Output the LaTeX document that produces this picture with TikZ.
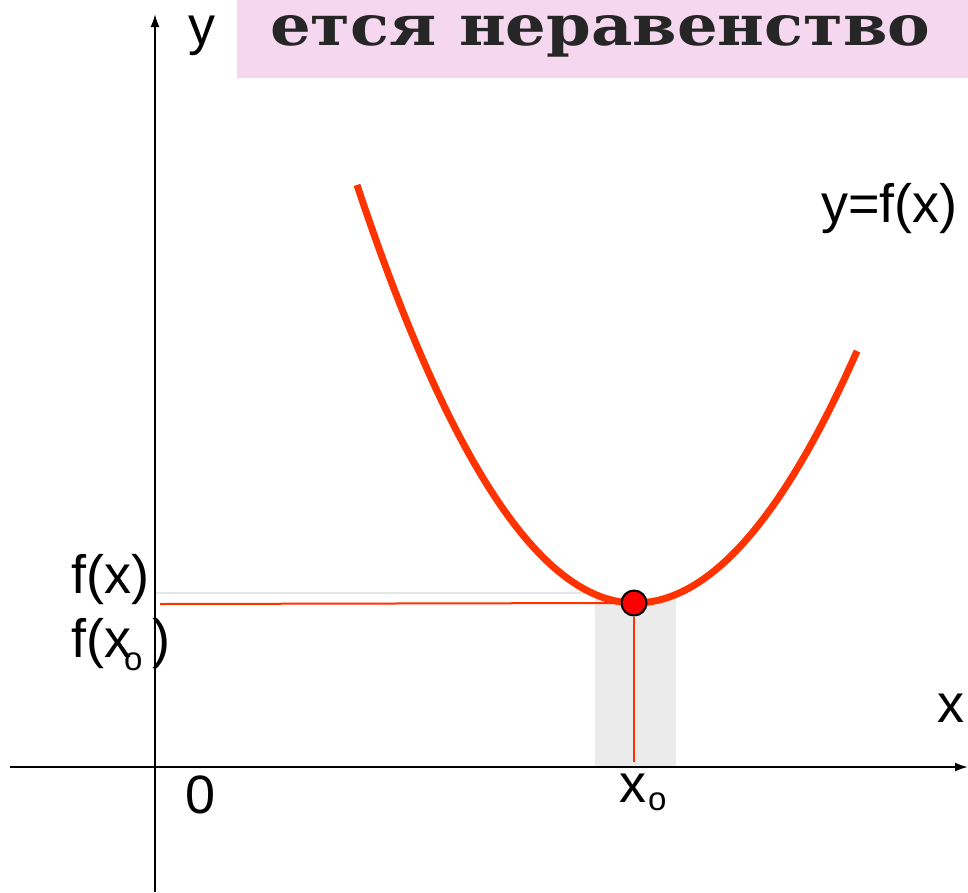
\documentclass[tikz,border=0pt]{standalone}
\usepackage{fontspec}
\setmainfont{Liberation Sans}
\newfontfamily\bannerfont{DejaVu Serif}
\usetikzlibrary{arrows.meta}
\definecolor{curvered}{RGB}{255,51,0}
\definecolor{pinkbg}{RGB}{245,216,239}
\definecolor{shadegray}{RGB}{235,235,235}
\definecolor{faintgray}{RGB}{230,230,230}
\newcommand{\subo}[3]{\kern#1pt\raisebox{-#2pt}{\fontsize{33}{36}\selectfont o}\kern#3pt}
\begin{document}
\begin{tikzpicture}[x=1pt,y=-1pt,
  lbl/.style={inner sep=0,anchor=base west,font=\fontsize{54}{60}\selectfont},
  axisline/.style={line width=2pt,-{Latex[length=13pt,width=9pt]}},
  thinred/.style={curvered,line width=2pt},
  curveline/.style={curvered,line width=7pt},
  mindot/.style={circle,fill=red,draw=black,line width=2pt,minimum size=25pt,inner sep=0}]
\useasboundingbox (0,0) rectangle (968,892);
% banner
\fill[pinkbg] (237,0) rectangle (968,78);
\node[inner sep=0,anchor=base west,text=black!85] (banner) at (270,45)
  {\resizebox{660pt}{30pt}{\bannerfont\bfseries ется неравенство}};
% shaded strip
\fill[shadegray] (595,598) rectangle (676,767);
% coordinates
\coordinate (xs) at (10,767);
\coordinate (xe) at (968,767);
\coordinate (ys) at (155,892);
\coordinate (ye) at (155,14);
\coordinate (fxl) at (155,593);
\coordinate (fxr) at (600,593);
\coordinate (fyl) at (160,604);
\coordinate (xfoot) at (634,762);
% guide lines
\draw[faintgray,line width=2pt] (fxl) -- (fxr);
% curve
\draw[curveline] plot[domain=357:635,samples=80] (\x,{603-(0.07355*(\x-635))^2})
  -- plot[domain=635:857,samples=70] (\x,{603-(0.07151*(\x-635))^2});
\node[mindot] (m) at (634,603) {};
\draw[thinred] (fyl) -- (m.west);
\draw[thinred] (m.south) -- (xfoot);
% axes
\draw[axisline] (xs) -- (xe);
\draw[axisline] (ys) -- (ye);
% labels
\node[lbl] (ylab) at (188,44) {y};
\node[lbl] (xlab) at (937,722) {x};
\node[lbl] (zero) at (185,813) {0};
\node[lbl] (x0) at (619,802) {x\subo{2}{8}{0}};
\node[lbl] (fx) at (71,593) {f(x)};
\node[lbl] (fx0) at (71,657) {f(x\subo{-7}{13}{9.7})};
\node[lbl] (func) at (821,222) {y=f(x)};
\end{tikzpicture}
\end{document}
